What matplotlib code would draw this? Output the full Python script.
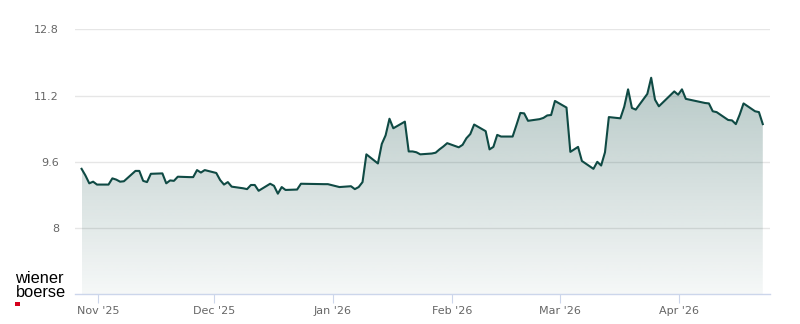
import matplotlib
matplotlib.use('Agg')
import matplotlib.pyplot as plt
import matplotlib.dates as mdates
from matplotlib.patches import Rectangle
import numpy as np
import pandas as pd

# closing prices
dates = [
    '2025-10-27', '2025-10-28', '2025-10-29', '2025-10-30', '2025-10-31',
    '2025-11-03', '2025-11-04', '2025-11-05', '2025-11-06', '2025-11-07',
    '2025-11-10', '2025-11-11', '2025-11-12', '2025-11-13', '2025-11-14',
    '2025-11-17', '2025-11-18', '2025-11-19', '2025-11-20', '2025-11-21',
    '2025-11-24', '2025-11-25', '2025-11-26', '2025-11-27', '2025-11-28',
    '2025-12-01', '2025-12-02', '2025-12-03', '2025-12-04', '2025-12-05',
    '2025-12-08', '2025-12-09', '2025-12-10', '2025-12-11', '2025-12-12',
    '2025-12-15', '2025-12-16', '2025-12-17', '2025-12-18', '2025-12-19',
    '2025-12-22', '2025-12-23', '2025-12-29', '2025-12-30',
    '2026-01-02', '2026-01-05', '2026-01-06', '2026-01-07', '2026-01-08', '2026-01-09',
    '2026-01-12', '2026-01-13', '2026-01-14', '2026-01-15', '2026-01-16',
    '2026-01-19', '2026-01-20', '2026-01-21', '2026-01-22', '2026-01-23',
    '2026-01-26', '2026-01-27', '2026-01-28', '2026-01-29', '2026-01-30',
    '2026-02-02', '2026-02-03', '2026-02-04', '2026-02-05', '2026-02-06',
    '2026-02-09', '2026-02-10', '2026-02-11', '2026-02-12', '2026-02-13',
    '2026-02-16', '2026-02-17', '2026-02-18', '2026-02-19', '2026-02-20',
    '2026-02-23', '2026-02-24', '2026-02-25', '2026-02-26', '2026-02-27',
    '2026-03-02', '2026-03-03', '2026-03-04', '2026-03-05', '2026-03-06',
    '2026-03-09', '2026-03-10', '2026-03-11', '2026-03-12', '2026-03-13',
    '2026-03-16', '2026-03-17', '2026-03-18', '2026-03-19', '2026-03-20',
    '2026-03-23', '2026-03-24', '2026-03-25', '2026-03-26', '2026-03-27',
    '2026-03-30', '2026-03-31', '2026-04-01', '2026-04-02',
    '2026-04-07', '2026-04-08', '2026-04-09', '2026-04-10',
    '2026-04-13', '2026-04-14', '2026-04-15', '2026-04-16', '2026-04-17',
    '2026-04-20', '2026-04-21', '2026-04-22',
]
prices = [
    9.43, 9.27, 9.08, 9.12, 9.05,
    9.05, 9.20, 9.17, 9.12, 9.13,
    9.38, 9.38, 9.14, 9.11, 9.31,
    9.32, 9.08, 9.15, 9.14, 9.24,
    9.23, 9.23, 9.40, 9.34, 9.40,
    9.33, 9.16, 9.05, 9.11, 9.00,
    8.96, 8.94, 9.04, 9.04, 8.90,
    9.07, 9.02, 8.83, 8.99, 8.92,
    8.93, 9.07, 9.06, 9.06,
    8.99, 9.01, 8.94, 8.99, 9.11, 9.78,
    9.56, 10.03, 10.24, 10.64, 10.41,
    10.57, 9.85, 9.85, 9.83, 9.78,
    9.80, 9.82, 9.90, 9.97, 10.05,
    9.95, 10.01, 10.17, 10.27, 10.50,
    10.34, 9.90, 9.96, 10.25, 10.21,
    10.21, 10.49, 10.78, 10.77, 10.59,
    10.63, 10.66, 10.72, 10.73, 11.07,
    10.91, 9.84, 9.90, 9.96, 9.62,
    9.43, 9.60, 9.51, 9.83, 10.68,
    10.65, 10.93, 11.35, 10.90, 10.86,
    11.24, 11.63, 11.10, 10.94, 11.03,
    11.30, 11.22, 11.35, 11.12,
    11.02, 11.01, 10.82, 10.80,
    10.61, 10.60, 10.51, 10.74, 11.01,
    10.82, 10.80, 10.51,
]
y_ticks = [8, 9.6, 11.2, 12.8]
y_tick_labels = ['8', '9.6', '11.2', '12.8']

line_color = '#0f4a44'
y_min, y_max = 6.4, 12.8

# prices are closing prices, stamped at the afternoon close
x = pd.to_datetime(dates) + pd.Timedelta(hours=16)
xn = mdates.date2num(x)

fig = plt.figure(figsize=(8, 3.24), dpi=100)
ax = fig.add_axes([75 / 800, (324 - 294.3) / 324, 695 / 800, 265 / 324])

x_left = mdates.date2num(pd.Timestamp('2025-10-25 23:00'))
x_right = mdates.date2num(pd.Timestamp('2026-04-24 13:00'))

# gradient area under the line
poly = ax.fill_between(xn, prices, y_min, facecolor='none', edgecolor='none')
top = max(prices)
grad = np.zeros((256, 1, 4))
rgb = matplotlib.colors.to_rgb(line_color)
grad[:, 0, 0:3] = rgb
grad[:, 0, 3] = np.linspace(0.30, 0.04, 256)
im = ax.imshow(grad, aspect='auto', origin='upper',
               extent=[xn[0], xn[-1], y_min, top], zorder=1, interpolation='bilinear')
im.set_clip_path(poly.get_paths()[0], transform=ax.transData)

ax.plot(xn, prices, color=line_color, linewidth=1.5, zorder=3, solid_joinstyle='round')

ax.set_xlim(x_left, x_right)
ax.set_ylim(y_min, y_max)

ax.set_yticks(y_ticks)
ax.set_yticklabels(y_tick_labels)
ax.yaxis.grid(True, color='#e6e6e6', linewidth=1.0)
ax.set_axisbelow(True)
ax.tick_params(axis='y', length=0, pad=11.5, labelsize=8, labelcolor='#666666')

ax.xaxis.set_major_locator(mdates.MonthLocator())
ax.xaxis.set_major_formatter(mdates.DateFormatter("%b '%y"))
ax.tick_params(axis='x', length=6.8, width=0.8, color='#ccd6eb', pad=1.5,
               labelsize=8, labelcolor='#666666')

for side in ['top', 'right', 'left']:
    ax.spines[side].set_visible(False)
ax.spines['bottom'].set_color('#ccd6eb')
ax.spines['bottom'].set_linewidth(1.0)
ax.spines['bottom'].set_zorder(4)

# logo
fig.text(15.5 / 800, (324 - 282.7) / 324, 'wiener', fontsize=11.8,
         family='Liberation Sans', color='black', va='baseline', ha='left')
fig.text(15.5 / 800, (324 - 297.2) / 324, 'boerse', fontsize=11.8,
         family='Liberation Sans', color='black', va='baseline', ha='left')
fig.patches.append(Rectangle((15 / 800, (324 - 306) / 324), 4.5 / 800, 4 / 324,
                             transform=fig.transFigure, facecolor='#d5001c',
                             edgecolor='none'))

fig.savefig('out.png', dpi=100)
